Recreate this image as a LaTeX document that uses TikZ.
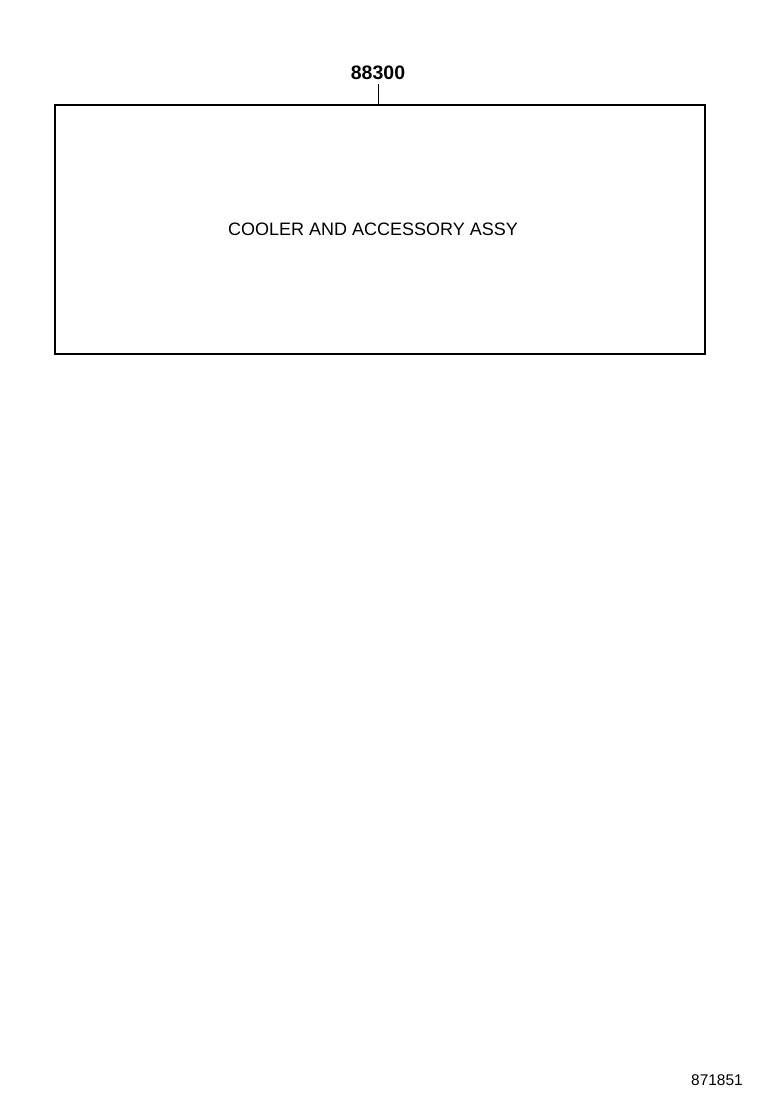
\documentclass[tikz,border=0pt]{standalone}
\usepackage{fontspec}
\setmainfont{Liberation Sans}
\begin{document}
\begin{tikzpicture}[x=1pt,y=-1pt,
  box/.style={draw=black,line width=1.6pt,minimum width=650pt,minimum height=249pt,inner sep=0pt},
  lbl/.style={font=\fontsize{19.5}{21}\selectfont\bfseries,inner sep=0pt},
  txt/.style={font=\fontsize{18}{20}\selectfont,inner sep=0pt},
  ref/.style={font=\fontsize{15.5}{17}\selectfont,inner sep=0pt}]
\useasboundingbox[fill=white] (0,0) rectangle (760,1112);
\node[box] (assy) at (380,229.5) {};
\node[txt] (name) at (373,229) {COOLER AND ACCESSORY ASSY};
\node[lbl] (num) at (378,73) {88300};
\coordinate (top) at (378,105);
\draw[line width=1pt] (top) -- (378,84);
\node[ref] (code) at (717,1080) {871851};
\end{tikzpicture}
\end{document}
